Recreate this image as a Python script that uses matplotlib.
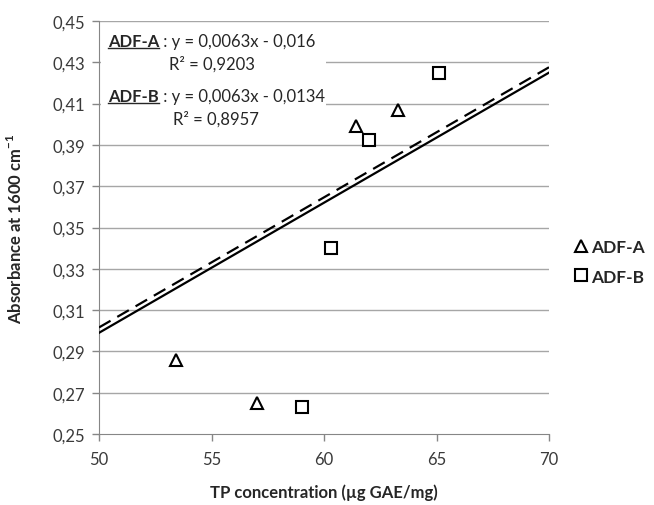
import matplotlib.pyplot as plt
import numpy as np
from matplotlib.patches import Rectangle
from matplotlib.lines import Line2D

plt.rcParams['font.family'] = ['Lato', 'DejaVu Sans']

# ADF-A (triangles) and ADF-B (squares) measurements
adf_a_x = [53.4, 57.0, 61.4, 63.3]
adf_a_y = [0.286, 0.265, 0.399, 0.407]
adf_b_x = [59.0, 60.3, 62.0, 65.1]
adf_b_y = [0.263, 0.340, 0.3925, 0.425]

# linear fits as printed on the chart
fit_a = (0.0063, -0.016)
fit_b = (0.0063, -0.0134)

x_ticks = [50, 55, 60, 65, 70]
y_ticks = [0.25, 0.27, 0.29, 0.31, 0.33, 0.35, 0.37, 0.39, 0.41, 0.43, 0.45]

W, H = 654, 506
fig = plt.figure(figsize=(W / 100, H / 100), dpi=100)
ax = fig.add_axes([99 / W, 1 - 435 / H, 450 / W, 413 / H])


def px(x, y):
    return x / W, 1 - y / H


grid_c = '#a6a6a6'
for yv in y_ticks[1:]:
    ax.axhline(yv, color=grid_c, lw=1.0, zorder=1)

# white box behind the equations
ax.add_patch(Rectangle((0.004, 0.745), 0.50, 0.24, transform=ax.transAxes,
                       facecolor='white', edgecolor='none', zorder=2))

xs = np.array([50, 70])
ax.plot(xs, fit_a[0] * xs + fit_a[1], color='black', lw=1.6, zorder=3)
ax.plot(xs, fit_b[0] * xs + fit_b[1], color='black', lw=1.6,
        dashes=(6, 3.5), zorder=3)

ax.plot(adf_a_x, adf_a_y, linestyle='none', marker='^', ms=9, mfc='white',
        mec='black', mew=1.5, label='ADF-A', zorder=4)
ax.plot(adf_b_x, adf_b_y, linestyle='none', marker='s', ms=9, mfc='white',
        mec='black', mew=1.5, label='ADF-B', zorder=4)

ax.set_xlim(50, 70)
ax.set_ylim(0.25, 0.45)
ax.set_xticks(x_ticks)
ax.set_yticks(y_ticks)
ax.set_yticklabels([f'{v:.2f}'.replace('.', ',') for v in y_ticks])
ax.tick_params(axis='both', labelsize=12, colors='#3a3a3a', length=5,
               width=1, direction='out')
ax.tick_params(axis='x', pad=7)
ax.tick_params(axis='y', pad=5)
ax.tick_params(axis='both', color='#868686')
for s in ['top', 'right']:
    ax.spines[s].set_visible(False)
for s in ['left', 'bottom']:
    ax.spines[s].set_color('#868686')

ax.set_xlabel('TP concentration (µg GAE/mg)', fontsize=12, fontweight='bold',
              color='#262626', labelpad=12)
ax.set_ylabel('Absorbance at 1600 cm$^{\\mathregular{-1}}$', fontsize=12,
              fontweight='bold', color='#262626', labelpad=20)

leg = fig.legend(loc='center left', bbox_to_anchor=px(572, 263), frameon=False,
                 prop={'size': 12.5, 'weight': 'bold'}, handletextpad=0.1,
                 labelspacing=0.75, handlelength=1.0, markerscale=1.0,
                 borderaxespad=0, borderpad=0)
for t in leg.get_texts():
    t.set_color('#262626')

# equation labels
fs = 12
fig.canvas.draw()
r = fig.canvas.get_renderer()
for name, eq, r2, yl, yr in [('ADF-A', ' : y = 0,0063x - 0,016', 'R² = 0,9203', 42, 64),
                             ('ADF-B', ' : y = 0,0063x - 0,0134', 'R² = 0,8957', 97, 119)]:
    t1 = fig.text(*px(108, yl), name, fontsize=fs, fontweight='bold',
                  va='center', ha='left', color='#262626')
    t2 = fig.text(0, 0, eq, fontsize=fs, va='center', ha='left', color='#262626')
    fig.canvas.draw()
    bb = t1.get_window_extent(r)
    t2.set_position((bb.x1 / W, px(0, yl)[1]))
    fig.add_artist(Line2D([bb.x0 / W, bb.x1 / W], [(bb.y0 + 1) / H] * 2,
                          color='#262626', lw=1.0))
    bb2 = t2.get_window_extent(r)
    fig.text((bb.x0 + bb2.x1) / 2 / W, px(0, yr)[1], r2, fontsize=fs,
             va='center', ha='center', color='#262626')

fig.savefig('out.png', dpi=100)
